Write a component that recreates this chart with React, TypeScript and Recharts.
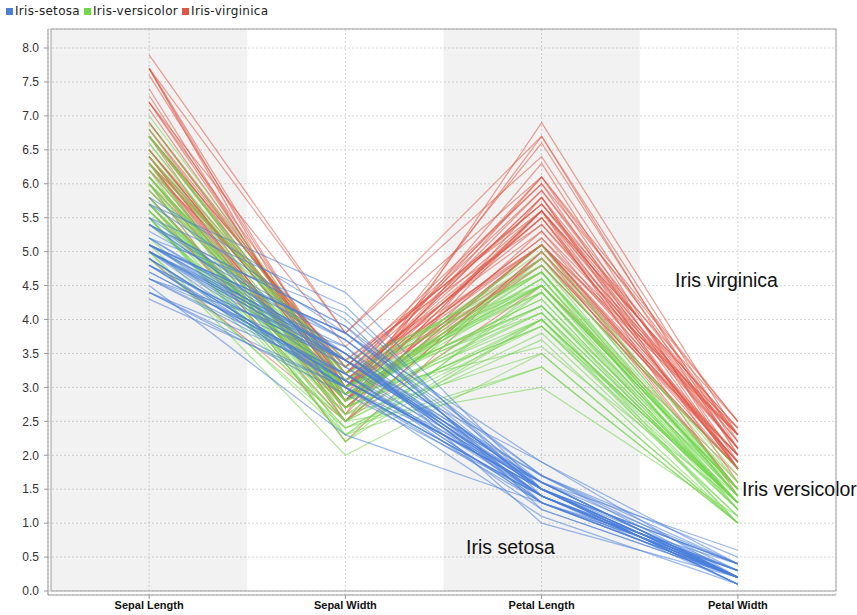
import {
  LineChart,
  Line,
  XAxis,
  YAxis,
  CartesianGrid,
  ReferenceArea,
} from "recharts";

// Fisher's iris measurements: [sepal length, sepal width, petal length, petal width]
const setosa: number[][] = [
  [5.1, 3.5, 1.4, 0.2], [4.9, 3.0, 1.4, 0.2], [4.7, 3.2, 1.3, 0.2], [4.6, 3.1, 1.5, 0.2],
  [5.0, 3.6, 1.4, 0.2], [5.4, 3.9, 1.7, 0.4], [4.6, 3.4, 1.4, 0.3], [5.0, 3.4, 1.5, 0.2],
  [4.4, 2.9, 1.4, 0.2], [4.9, 3.1, 1.5, 0.1], [5.4, 3.7, 1.5, 0.2], [4.8, 3.4, 1.6, 0.2],
  [4.8, 3.0, 1.4, 0.1], [4.3, 3.0, 1.1, 0.1], [5.8, 4.0, 1.2, 0.2], [5.7, 4.4, 1.5, 0.4],
  [5.4, 3.9, 1.3, 0.4], [5.1, 3.5, 1.4, 0.3], [5.7, 3.8, 1.7, 0.3], [5.1, 3.8, 1.5, 0.3],
  [5.4, 3.4, 1.7, 0.2], [5.1, 3.7, 1.5, 0.4], [4.6, 3.6, 1.0, 0.2], [5.1, 3.3, 1.7, 0.5],
  [4.8, 3.4, 1.9, 0.2], [5.0, 3.0, 1.6, 0.2], [5.0, 3.4, 1.6, 0.4], [5.2, 3.5, 1.5, 0.2],
  [5.2, 3.4, 1.4, 0.2], [4.7, 3.2, 1.6, 0.2], [4.8, 3.1, 1.6, 0.2], [5.4, 3.4, 1.5, 0.4],
  [5.2, 4.1, 1.5, 0.1], [5.5, 4.2, 1.4, 0.2], [4.9, 3.1, 1.5, 0.1], [5.0, 3.2, 1.2, 0.2],
  [5.5, 3.5, 1.3, 0.2], [4.9, 3.1, 1.5, 0.1], [4.4, 3.0, 1.3, 0.2], [5.1, 3.4, 1.5, 0.2],
  [5.0, 3.5, 1.3, 0.3], [4.5, 2.3, 1.3, 0.3], [4.4, 3.2, 1.3, 0.2], [5.0, 3.5, 1.6, 0.6],
  [5.1, 3.8, 1.9, 0.4], [4.8, 3.0, 1.4, 0.3], [5.1, 3.8, 1.6, 0.2], [4.6, 3.2, 1.4, 0.2],
  [5.3, 3.7, 1.5, 0.2], [5.0, 3.3, 1.4, 0.2],
];

const versicolor: number[][] = [
  [7.0, 3.2, 4.7, 1.4], [6.4, 3.2, 4.5, 1.5], [6.9, 3.1, 4.9, 1.5], [5.5, 2.3, 4.0, 1.3],
  [6.5, 2.8, 4.6, 1.5], [5.7, 2.8, 4.5, 1.3], [6.3, 3.3, 4.7, 1.6], [4.9, 2.4, 3.3, 1.0],
  [6.6, 2.9, 4.6, 1.3], [5.2, 2.7, 3.9, 1.4], [5.0, 2.0, 3.5, 1.0], [5.9, 3.0, 4.2, 1.5],
  [6.0, 2.2, 4.0, 1.0], [6.1, 2.9, 4.7, 1.4], [5.6, 2.9, 3.6, 1.3], [6.7, 3.1, 4.4, 1.4],
  [5.6, 3.0, 4.5, 1.5], [5.8, 2.7, 4.1, 1.0], [6.2, 2.2, 4.5, 1.5], [5.6, 2.5, 3.9, 1.1],
  [5.9, 3.2, 4.8, 1.8], [6.1, 2.8, 4.0, 1.3], [6.3, 2.5, 4.9, 1.5], [6.1, 2.8, 4.7, 1.2],
  [6.4, 2.9, 4.3, 1.3], [6.6, 3.0, 4.4, 1.4], [6.8, 2.8, 4.8, 1.4], [6.7, 3.0, 5.0, 1.7],
  [6.0, 2.9, 4.5, 1.5], [5.7, 2.6, 3.5, 1.0], [5.5, 2.4, 3.8, 1.1], [5.5, 2.4, 3.7, 1.0],
  [5.8, 2.7, 3.9, 1.2], [6.0, 2.7, 5.1, 1.6], [5.4, 3.0, 4.5, 1.5], [6.0, 3.4, 4.5, 1.6],
  [6.7, 3.1, 4.7, 1.5], [6.3, 2.3, 4.4, 1.3], [5.6, 3.0, 4.1, 1.3], [5.5, 2.5, 4.0, 1.3],
  [5.5, 2.6, 4.4, 1.2], [6.1, 3.0, 4.6, 1.4], [5.8, 2.6, 4.0, 1.2], [5.0, 2.3, 3.3, 1.0],
  [5.6, 2.7, 4.2, 1.3], [5.7, 3.0, 4.2, 1.2], [5.7, 2.9, 4.2, 1.3], [6.2, 2.9, 4.3, 1.3],
  [5.1, 2.5, 3.0, 1.1], [5.7, 2.8, 4.1, 1.3],
];

const virginica: number[][] = [
  [6.3, 3.3, 6.0, 2.5], [5.8, 2.7, 5.1, 1.9], [7.1, 3.0, 5.9, 2.1], [6.3, 2.9, 5.6, 1.8],
  [6.5, 3.0, 5.8, 2.2], [7.6, 3.0, 6.6, 2.1], [4.9, 2.5, 4.5, 1.7], [7.3, 2.9, 6.3, 1.8],
  [6.7, 2.5, 5.8, 1.8], [7.2, 3.6, 6.1, 2.5], [6.5, 3.2, 5.1, 2.0], [6.4, 2.7, 5.3, 1.9],
  [6.8, 3.0, 5.5, 2.1], [5.7, 2.5, 5.0, 2.0], [5.8, 2.8, 5.1, 2.4], [6.4, 3.2, 5.3, 2.3],
  [6.5, 3.0, 5.5, 1.8], [7.7, 3.8, 6.7, 2.2], [7.7, 2.6, 6.9, 2.3], [6.0, 2.2, 5.0, 1.5],
  [6.9, 3.2, 5.7, 2.3], [5.6, 2.8, 4.9, 2.0], [7.7, 2.8, 6.7, 2.0], [6.3, 2.7, 4.9, 1.8],
  [6.7, 3.3, 5.7, 2.1], [7.2, 3.2, 6.0, 1.8], [6.2, 2.8, 4.8, 1.8], [6.1, 3.0, 4.9, 1.8],
  [6.4, 2.8, 5.6, 2.1], [7.2, 3.0, 5.8, 1.6], [7.4, 2.8, 6.1, 1.9], [7.9, 3.8, 6.4, 2.0],
  [6.4, 2.8, 5.6, 2.2], [6.3, 2.8, 5.1, 1.5], [6.1, 2.6, 5.6, 1.4], [7.7, 3.0, 6.1, 2.3],
  [6.3, 3.4, 5.6, 2.4], [6.4, 3.1, 5.5, 1.8], [6.0, 3.0, 4.8, 1.8], [6.9, 3.1, 5.4, 2.1],
  [6.7, 3.1, 5.6, 2.4], [6.9, 3.1, 5.1, 2.3], [5.8, 2.7, 5.1, 1.9], [6.8, 3.2, 5.9, 2.3],
  [6.7, 3.3, 5.7, 2.5], [6.7, 3.0, 5.2, 2.3], [6.3, 2.5, 5.0, 1.9], [6.5, 3.0, 5.2, 2.0],
  [6.2, 3.4, 5.4, 2.3], [5.9, 3.0, 5.1, 1.8],
];

const dimensions = ["Sepal Length", "Sepal Width", "Petal Length", "Petal Width"];
const yTicks = [0, 0.5, 1, 1.5, 2, 2.5, 3, 3.5, 4, 4.5, 5, 5.5, 6, 6.5, 7, 7.5, 8];
const yMax = 8.28;

const species = [
  { name: "Iris-setosa", color: "#4a7fda", rows: setosa },
  { name: "Iris-versicolor", color: "#72d64c", rows: versicolor },
  { name: "Iris-virginica", color: "#de5646", rows: virginica },
];

// one line per flower; keys look like "Iris-setosa-12"
const chartData = dimensions.map((dim, i) => {
  const row: Record<string, number | string> = { x: i, name: dim };
  species.forEach((s) => {
    s.rows.forEach((r, k) => {
      row[`${s.name}-${k}`] = r[i];
    });
  });
  return row;
});

// first species in the legend ends up on top
const drawOrder = [...species].reverse();

const annotations = [
  { text: "Iris virginica", x: 675, y: 287 },
  { text: "Iris versicolor", x: 742, y: 496 },
  { text: "Iris setosa", x: 466, y: 554 },
];

export default function App() {
  return (
    <div style={{ position: "absolute", left: 0, top: 0, width: 857, height: 615, background: "#fff", overflow: "hidden" }}>
      <LineChart
        width={857}
        height={615}
        data={chartData}
        margin={{ top: 29, right: 21, bottom: 0, left: 0 }}
      >
        <ReferenceArea x1={-0.5} x2={0.5} y1={0} y2={yMax} fill="#000" fillOpacity={0.05} stroke="none" />
        <ReferenceArea x1={1.5} x2={2.5} y1={0} y2={yMax} fill="#000" fillOpacity={0.05} stroke="none" />
        <CartesianGrid stroke="#d6d6d6" strokeDasharray="2 2" />
        <XAxis
          type="number"
          dataKey="x"
          domain={[-0.5, 3.5]}
          ticks={[0, 1, 2, 3]}
          tickFormatter={(i: number) => dimensions[i]}
          padding={{ left: 3, right: 0 }}
          height={20}
          tickSize={4}
          tickMargin={2}
          allowDataOverflow
          stroke="#999"
          tick={{ fontFamily: "Liberation Sans, Arial, sans-serif", fontSize: 11, fontWeight: "bold", fill: "#111" }}
        />
        <YAxis
          type="number"
          domain={[0, yMax]}
          ticks={yTicks}
          tickFormatter={(v: number) => v.toFixed(1)}
          padding={{ bottom: 4, top: 0 }}
          width={48}
          tickSize={4}
          tickMargin={5}
          allowDataOverflow
          stroke="#999"
          tick={{ fontFamily: "Liberation Sans, Arial, sans-serif", fontSize: 12, fill: "#333" }}
        />
        {drawOrder.map((s) =>
          s.rows.map((_, k) => (
            <Line
              key={`${s.name}-${k}`}
              type="linear"
              dataKey={`${s.name}-${k}`}
              stroke={s.color}
              strokeWidth={1.25}
              strokeOpacity={0.55}
              dot={false}
              activeDot={false}
              isAnimationActive={false}
            />
          ))
        )}
      </LineChart>

      {/* legend */}
      <div
        style={{
          position: "absolute",
          left: 6,
          top: 4,
          display: "flex",
          alignItems: "center",
          gap: 4,
          fontFamily: "DejaVu Sans, sans-serif",
          fontSize: 12,
          letterSpacing: 0.3,
          color: "#222",
          lineHeight: "14px",
        }}
      >
        {species.map((s) => (
          <div key={s.name} style={{ display: "flex", alignItems: "center", gap: 2 }}>
            <span style={{ display: "inline-block", width: 7, height: 7, background: s.color }} />
            <span>{s.name}</span>
          </div>
        ))}
      </div>

      {/* group labels, with the plot frame drawn over them */}
      <svg width={857} height={615} style={{ position: "absolute", left: 0, top: 0, pointerEvents: "none" }}>
        {annotations.map((a) => (
          <text
            key={a.text}
            x={a.x}
            y={a.y}
            fontFamily="Liberation Sans, Arial, sans-serif"
            fontSize={19.5}
            fill="#111"
          >
            {a.text}
          </text>
        ))}
        <rect x={51} y={29} width={785} height={562} fill="none" stroke="#a0a0a0" strokeWidth={1} />
      </svg>
    </div>
  );
}
